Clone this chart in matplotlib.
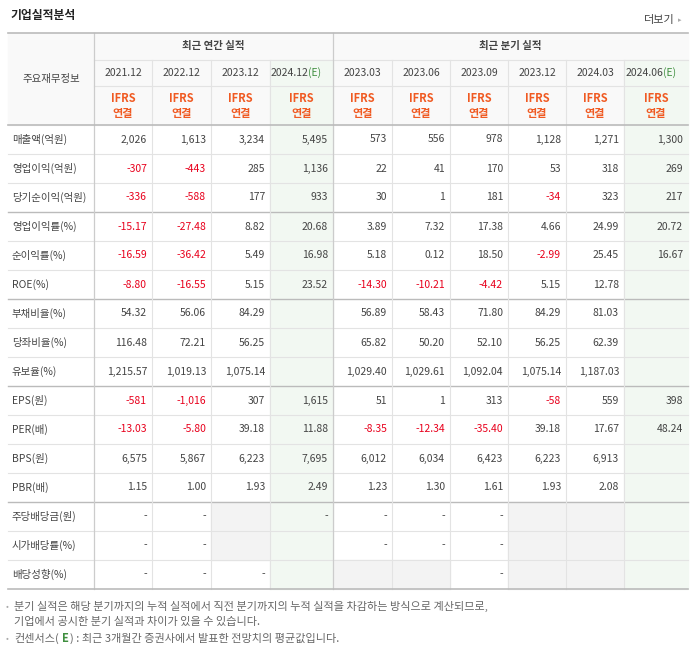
import matplotlib
matplotlib.use("Agg")
import matplotlib.pyplot as plt
from matplotlib.patches import Rectangle

plt.rcParams['font.family'] = ['Noto Sans CJK KR', 'DejaVu Sans']

periods = ["2021.12", "2022.12", "2023.12", "2024.12", "2023.03", "2023.06", "2023.09", "2023.12", "2024.03", "2024.06"]
estimate = [False, False, False, True, False, False, False, False, False, True]
row_labels = ["매출액(억원)", "영업이익(억원)", "당기순이익(억원)", "영업이익률(%)", "순이익률(%)", "ROE(%)",
              "부채비율(%)", "당좌비율(%)", "유보율(%)", "EPS(원)", "PER(배)", "BPS(원)", "PBR(배)",
              "주당배당금(원)", "시가배당률(%)", "배당성향(%)"]
N = None
G = "GRAY"
values = [
    ["2,026", "1,613", "3,234", "5,495", "573", "556", "978", "1,128", "1,271", "1,300"],
    ["-307", "-443", "285", "1,136", "22", "41", "170", "53", "318", "269"],
    ["-336", "-588", "177", "933", "30", "1", "181", "-34", "323", "217"],
    ["-15.17", "-27.48", "8.82", "20.68", "3.89", "7.32", "17.38", "4.66", "24.99", "20.72"],
    ["-16.59", "-36.42", "5.49", "16.98", "5.18", "0.12", "18.50", "-2.99", "25.45", "16.67"],
    ["-8.80", "-16.55", "5.15", "23.52", "-14.30", "-10.21", "-4.42", "5.15", "12.78", N],
    ["54.32", "56.06", "84.29", N, "56.89", "58.43", "71.80", "84.29", "81.03", N],
    ["116.48", "72.21", "56.25", N, "65.82", "50.20", "52.10", "56.25", "62.39", N],
    ["1,215.57", "1,019.13", "1,075.14", N, "1,029.40", "1,029.61", "1,092.04", "1,075.14", "1,187.03", N],
    ["-581", "-1,016", "307", "1,615", "51", "1", "313", "-58", "559", "398"],
    ["-13.03", "-5.80", "39.18", "11.88", "-8.35", "-12.34", "-35.40", "39.18", "17.67", "48.24"],
    ["6,575", "5,867", "6,223", "7,695", "6,012", "6,034", "6,423", "6,223", "6,913", N],
    ["1.15", "1.00", "1.93", "2.49", "1.23", "1.30", "1.61", "1.93", "2.08", N],
    ["-", "-", G, "-", "-", "-", "-", G, G, N],
    ["-", "-", G, N, "-", "-", "-", G, G, N],
    ["-", "-", "-", N, G, G, "-", G, G, N],
]

fig = plt.figure(figsize=(6.94, 6.48), dpi=100)
ax = fig.add_axes([0, 0, 1, 1])
ax.set_xlim(0, 694); ax.set_ylim(648, 0); ax.axis('off')

col_x = [8, 94, 152, 211, 270, 333, 392, 450, 508, 566, 624, 688]
top = 33; y1 = 60; y2 = 86; y3 = 125; rh = 29
nrows = len(row_labels)
bottom = y3 + rh * nrows
txt = '#444444'; red = '#e8001c'; orange = '#f05a22'; green = '#3f8f3f'
line = '#e3e3e3'; dark = '#bbbbbb'
fs = 7.5

ax.text(10, 16, "기업실적분석", fontsize=8.5, fontweight='bold', color='#222222', va='center')
ax.text(675, 20, "더보기", fontsize=8, color='#444444', va='center', ha='right')
ax.text(678, 20, "▸", fontsize=5, color='#aaaaaa', va='center', ha='left')

ax.add_patch(Rectangle((8, top), 680, y3 - top, color='#f9f9f9', zorder=0))
for j, e in enumerate(estimate):
    x0, x1 = col_x[j + 1], col_x[j + 2]
    if e:
        ax.add_patch(Rectangle((x0, y1), x1 - x0, bottom - y1, color='#f2f8f2', zorder=0))
for i, row in enumerate(values):
    for j, v in enumerate(row):
        if v == G:
            x0, x1 = col_x[j + 1], col_x[j + 2]
            ax.add_patch(Rectangle((x0, y3 + i * rh), x1 - x0, rh, color='#f3f3f3', zorder=0))

ax.plot([94, 688], [y1, y1], color=line, lw=0.8)
ax.plot([94, 688], [y2, y2], color=line, lw=0.8)
for i in range(1, nrows):
    yy = y3 + i * rh
    thick = i in (3, 6, 9, 13)
    ax.plot([8, 688], [yy, yy], color=dark if thick else line, lw=1.0 if thick else 0.8)
for k, xx in enumerate(col_x[1:-1]):
    if k in (0, 4):
        ax.plot([xx, xx], [top, bottom], color='#cccccc', lw=0.9)
    else:
        ax.plot([xx, xx], [y1, bottom], color=line, lw=0.8)
ax.plot([8, 688], [top, top], color=dark, lw=1.2)
ax.plot([8, 688], [y3, y3], color=dark, lw=1.2)
ax.plot([8, 688], [bottom, bottom], color=dark, lw=1.2)

ax.text(51, (top + y3) / 2, "주요재무정보", fontsize=fs, color=txt, ha='center', va='center')
ax.text((94 + 333) / 2, (top + y1) / 2, "최근 연간 실적", fontsize=fs, fontweight='bold', color=txt, ha='center', va='center')
ax.text((333 + 688) / 2, (top + y1) / 2, "최근 분기 실적", fontsize=fs, fontweight='bold', color=txt, ha='center', va='center')
for j, p in enumerate(periods):
    cx = (col_x[j + 1] + col_x[j + 2]) / 2
    yy = (y1 + y2) / 2
    if estimate[j]:
        ax.text(cx + 7, yy, p, fontsize=fs, color=txt, ha='right', va='center')
        ax.text(cx + 7, yy, "(E)", fontsize=fs, color=green, ha='left', va='center')
    else:
        ax.text(cx, yy, p, fontsize=fs, color=txt, ha='center', va='center')
    ax.text(cx, 99, "IFRS", fontsize=8, color=orange, ha='center', va='center', fontweight='bold')
    ax.text(cx, 113, "연결", fontsize=8, color=orange, ha='center', va='center', fontweight='bold')

for i, lab in enumerate(row_labels):
    cy = y3 + i * rh + rh / 2
    ax.text(12, cy, lab, fontsize=fs, color=txt, ha='left', va='center')
    for j, v in enumerate(values[i]):
        if v is None or v == G:
            continue
        xr = col_x[j + 2] - 5
        c = red if (v.startswith('-') and len(v) > 1) else txt
        ax.text(xr, cy, v, fontsize=fs, color=c, ha='right', va='center')

nc = '#666666'
ax.text(6, 606, "•", fontsize=6, color='#aaaaaa', va='center')
ax.text(14, 606, "분기 실적은 해당 분기까지의 누적 실적에서 직전 분기까지의 누적 실적을 차감하는 방식으로 계산되므로,",
        fontsize=8, color=nc, va='center')
ax.text(14, 622, "기업에서 공시한 분기 실적과 차이가 있을 수 있습니다.", fontsize=8, color=nc, va='center')
ax.text(6, 638, "•", fontsize=6, color='#aaaaaa', va='center')
ax.text(14, 638, "컨센서스(", fontsize=8, color=nc, va='center')
ax.text(62, 638, "E", fontsize=8, color=green, va='center', fontweight='bold')
ax.text(70, 638, ") : 최근 3개월간 증권사에서 발표한 전망치의 평균값입니다.", fontsize=8, color=nc, va='center')

fig.savefig("out.png", dpi=100)
